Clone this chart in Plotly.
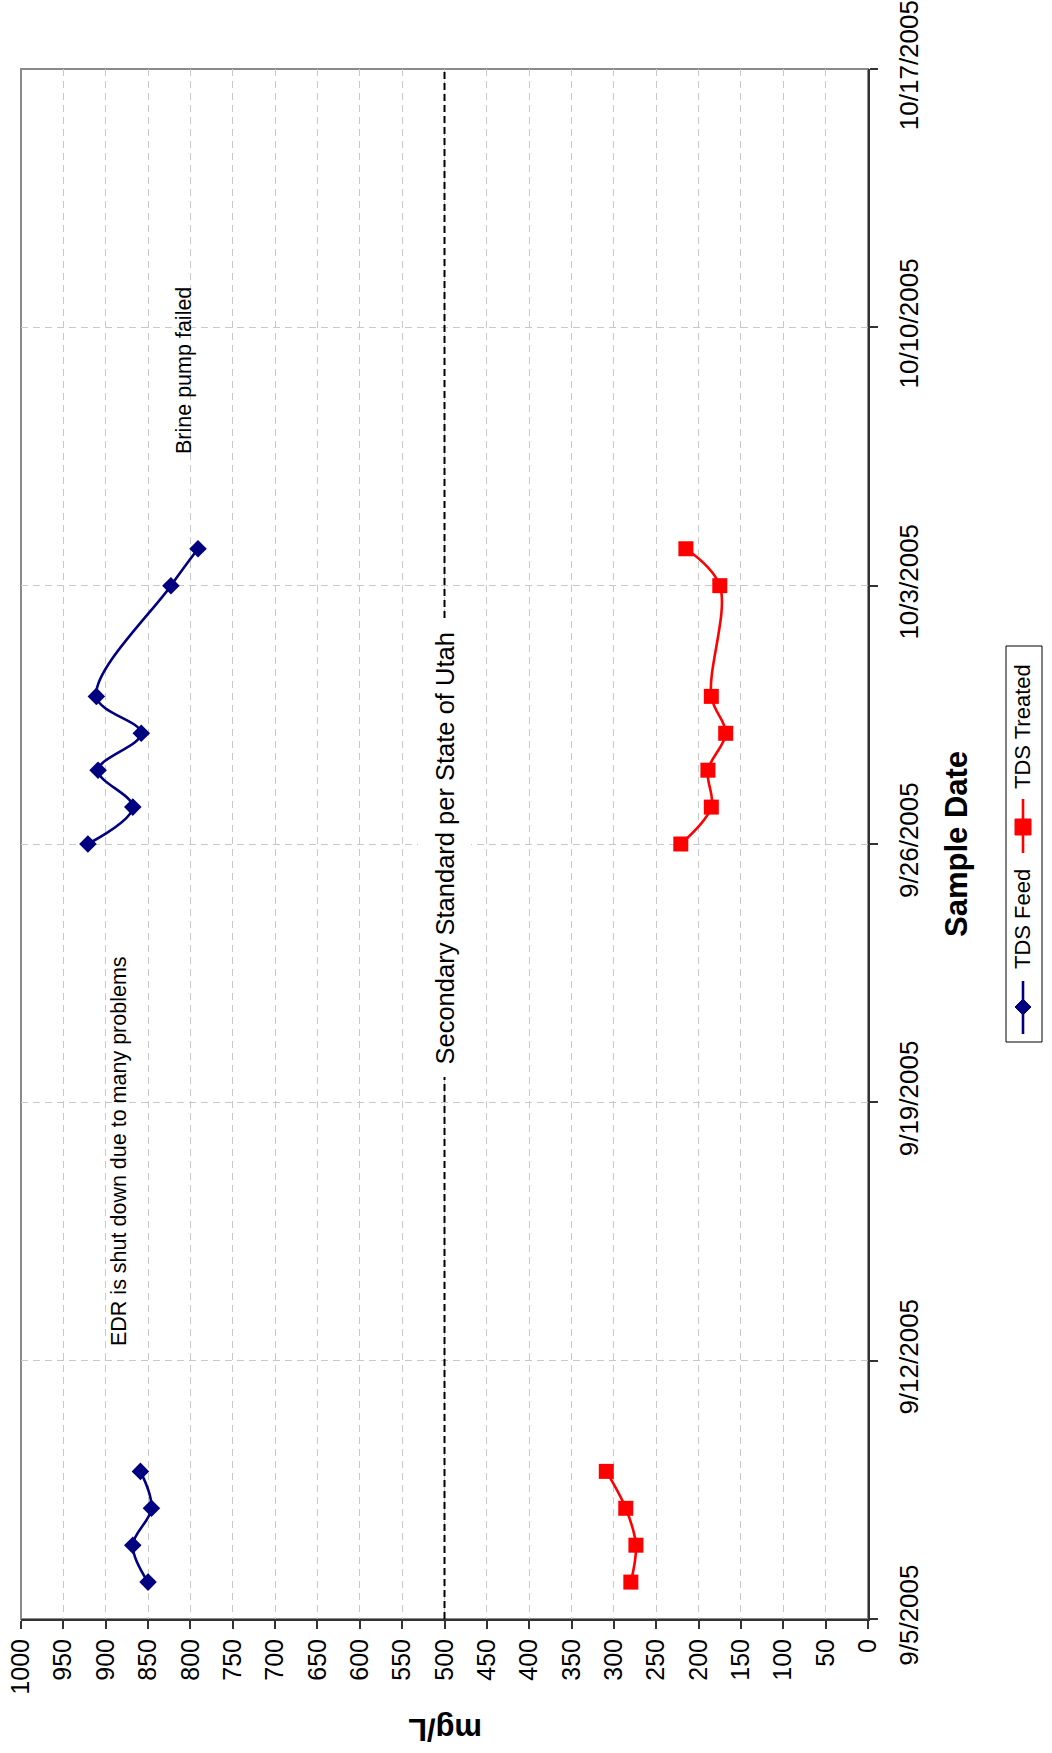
import plotly.graph_objects as go

# --- data -----------------------------------------------------------------
RUN1_DATES = ["2005-09-06", "2005-09-07", "2005-09-08", "2005-09-09"]
RUN1_FEED = [850, 868, 846, 859]
RUN1_TREATED = [280, 274, 286, 309]

RUN2_DATES = ["2005-09-26", "2005-09-27", "2005-09-28", "2005-09-29",
              "2005-09-30", "2005-10-03", "2005-10-04"]
RUN2_FEED = [921, 868, 909, 858, 911, 823, 791]
RUN2_TREATED = [221, 185, 189, 168, 185, 175, 215]

STANDARD_MGL = 500
DATE_RANGE = ["2005-09-05", "2005-10-17"]
MGL_TICKS = list(range(0, 1001, 50))

FEED_COLOR = "#000080"
TREATED_COLOR = "#FF0000"
FONT = "Liberation Sans, Arial, sans-serif"

# --- page geometry (pixels) --------------------------------------------------
W, H = 1052, 1753
PL, PR, PT, PB = 21, 868, 69, 1619


def px(x):
    return (x - PL) / (PR - PL)


def py(y):
    return (PB - y) / (PB - PT)


fig = go.Figure()

for dates, feed, treated in [(RUN1_DATES, RUN1_FEED, RUN1_TREATED),
                             (RUN2_DATES, RUN2_FEED, RUN2_TREATED)]:
    fig.add_trace(go.Scatter(
        x=feed, y=dates, mode="lines+markers", name="TDS Feed",
        line=dict(color=FEED_COLOR, width=2.6, shape="spline"),
        marker=dict(symbol="diamond", size=13.5, color=FEED_COLOR),
        showlegend=False))
    fig.add_trace(go.Scatter(
        x=treated, y=dates, mode="lines+markers", name="TDS Treated",
        line=dict(color=TREATED_COLOR, width=2.6, shape="spline"),
        marker=dict(symbol="square", size=15, color=TREATED_COLOR),
        showlegend=False))

shapes = [
    # plot-area frame
    dict(type="rect", xref="paper", yref="paper", x0=0, x1=1, y0=0, y1=1,
         line=dict(color="#8a8a8a", width=2), layer="below"),
    # secondary standard line
    dict(type="line", xref="x", yref="paper", x0=STANDARD_MGL, x1=STANDARD_MGL,
         y0=0, y1=1, line=dict(color="black", width=2, dash="7px,4px")),
    # legend box
    dict(type="rect", xref="paper", yref="paper",
         x0=px(1006), x1=px(1042), y0=py(1042), y1=py(646),
         line=dict(color="black", width=1), fillcolor="white"),
    dict(type="line", xref="paper", yref="paper",
         x0=px(1023), x1=px(1023), y0=py(1034), y1=py(981),
         line=dict(color=FEED_COLOR, width=2.6)),
    dict(type="line", xref="paper", yref="paper",
         x0=px(1023), x1=px(1023), y0=py(853), y1=py(799),
         line=dict(color=TREATED_COLOR, width=2.6)),
]

cx, cy, r = 1023, 1007, 8
shapes.append(dict(
    type="path", xref="paper", yref="paper",
    path=(f"M {px(cx)},{py(cy - r)} L {px(cx + r)},{py(cy)} "
          f"L {px(cx)},{py(cy + r)} L {px(cx - r)},{py(cy)} Z"),
    fillcolor=FEED_COLOR, line=dict(color=FEED_COLOR, width=1)))
cx, cy, r = 1023, 827, 8
shapes.append(dict(
    type="rect", xref="paper", yref="paper",
    x0=px(cx - r), x1=px(cx + r), y0=py(cy + r), y1=py(cy - r),
    fillcolor=TREATED_COLOR, line=dict(color=TREATED_COLOR, width=1)))


def label(text, x, y, size, angle=-90, xref="paper", **kw):
    return dict(text=text, xref=xref, yref="paper", x=x, y=y,
                xanchor="center", yanchor="middle", textangle=angle,
                showarrow=False, font=dict(size=size, color="black"), **kw)


annotations = [
    label("<b>mg/L</b>", px(445), py(1730), 31, angle=180),
    label("<b>Sample Date</b>", px(956), py(844), 31),
    label("EDR is shut down due to many problems", px(119), py(1151), 21.5),
    label("Brine pump failed", px(184), py(371), 21.5),
    label("Secondary Standard per State of Utah", STANDARD_MGL, py(849), 25.5,
          xref="x", bgcolor="white", borderpad=12),
    label("TDS Feed", px(1023), py(919), 22),
    label("TDS Treated", px(1023), py(726), 22),
]

fig.update_layout(
    width=W, height=H,
    margin=dict(l=PL, r=W - PR, t=PT, b=H - PB, autoexpand=False),
    paper_bgcolor="white", plot_bgcolor="white",
    font=dict(family=FONT, color="black"),
    shapes=shapes, annotations=annotations,
    showlegend=False,
    xaxis=dict(
        range=[1000, 0], tickvals=MGL_TICKS, tickangle=-90, automargin=False,
        tickfont=dict(size=25), ticks="outside", ticklen=8, tickwidth=1.5,
        tickcolor="#333", showline=True, linecolor="#333", linewidth=2,
        showgrid=True, gridcolor="#c8c8c8", gridwidth=1, griddash="7px,5px",
        zeroline=False),
    yaxis=dict(
        type="date", range=DATE_RANGE, side="right", automargin=False,
        tick0=DATE_RANGE[0], dtick=7 * 24 * 3600 * 1000, tickformat="%-m/%-d/%Y",
        tickangle=-90, tickfont=dict(size=26), ticks="outside", ticklen=8,
        ticklabelstandoff=9,
        tickwidth=1.5, tickcolor="#333", showline=True, linecolor="#333",
        linewidth=2, showgrid=True, gridcolor="#c8c8c8", gridwidth=1,
        griddash="7px,5px", zeroline=False),
)

fig.write_html("out.html")
